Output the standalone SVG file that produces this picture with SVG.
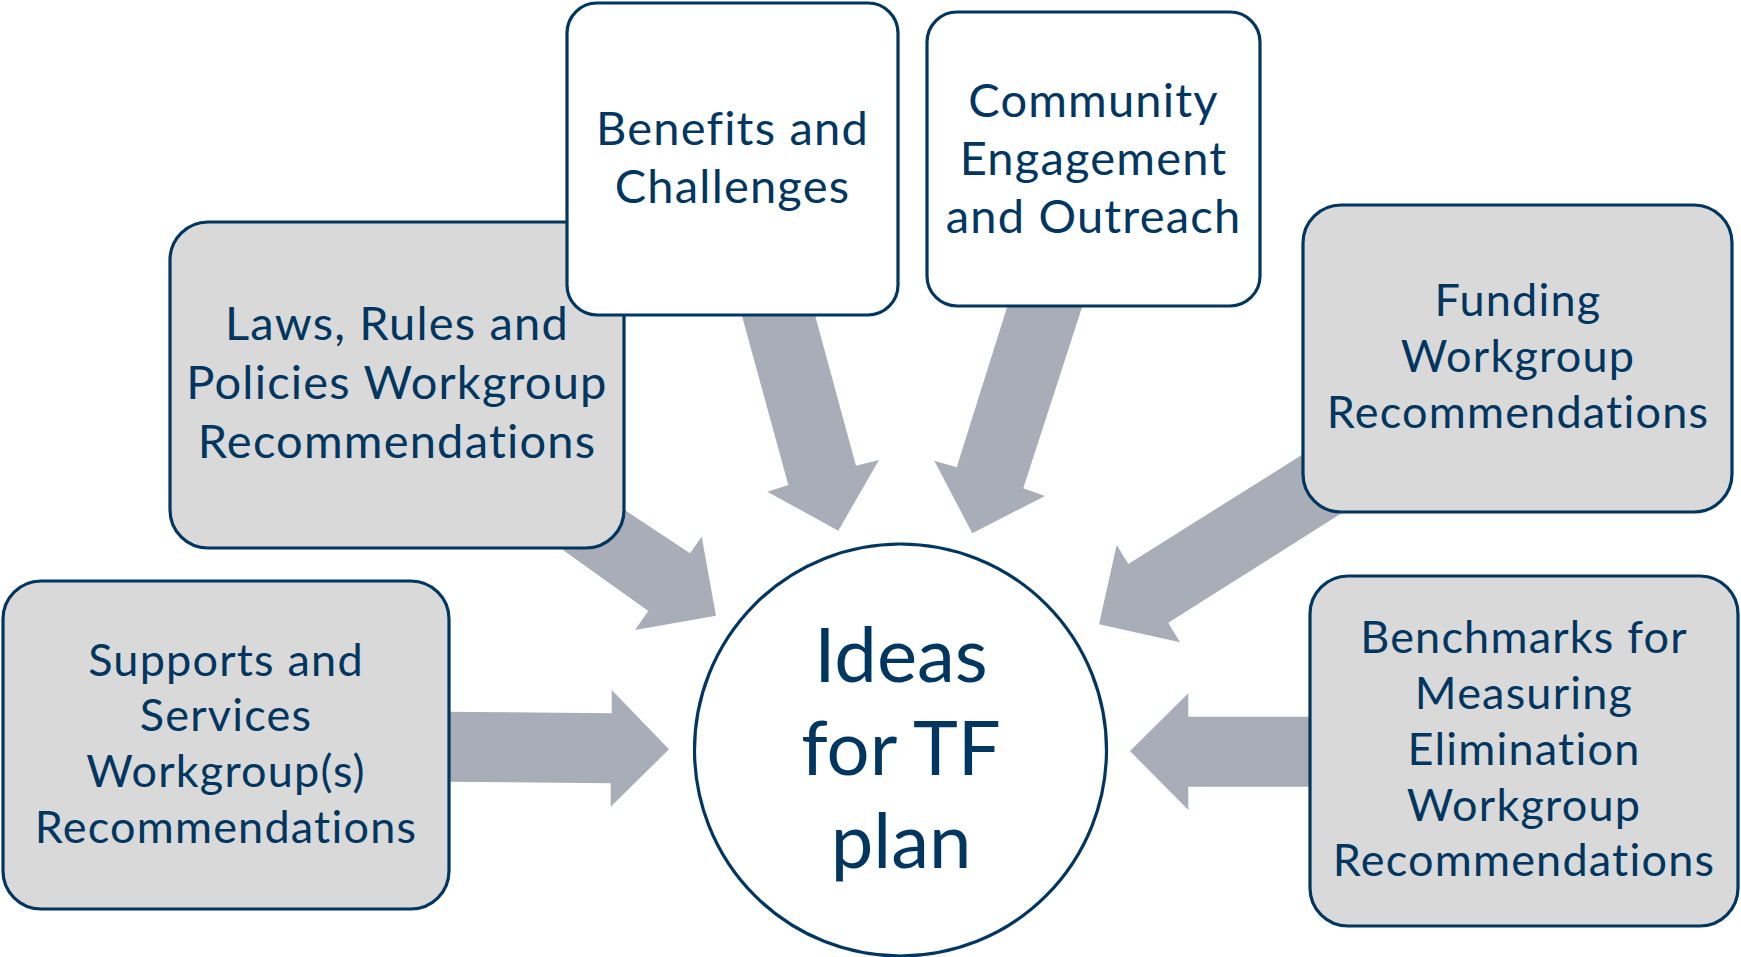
<svg xmlns="http://www.w3.org/2000/svg" width="1741" height="957" viewBox="0 0 1741 957">
<style>
.arrow{fill:#A9ADB7;stroke:none}
.box{stroke:#00365F;stroke-width:3.2}
.grey{fill:#D9D9D9}
.white{fill:#FFFFFF}
.t{font-family:Lato,"Liberation Sans",sans-serif;fill:#00365F;text-anchor:middle}
.t48{font-size:47px;letter-spacing:1.2px}
.t46{font-size:45px;letter-spacing:1.2px}
.big{font-size:76px}
</style>
<rect width="1741" height="957" fill="#FFFFFF"/>
<g id="connectors">
<polygon class="arrow" points="737.6,300 788.3,485 767.3,491.7 838.3,530.7 879,460 856,465.7 810.9,300"/>
<polygon class="arrow" points="1010.9,295 956.7,467.3 934.3,460.7 972.3,533.3 1045,496 1023.3,488.3 1086,295"/>
<polygon class="arrow" points="590,487 690,553.3 701.7,536.7 716,615.7 635,630 648.3,611 563,550"/>
<polygon class="arrow" points="1320,443.5 1128.3,564 1116.7,545 1099,624.3 1180,642.3 1168.3,622.7 1345,511"/>
<polygon class="arrow" points="440,711.7 611.7,713.3 611.7,690 669,749.3 610.7,806.7 610.7,783.3 440,781.7"/>
<polygon class="arrow" points="1130,751 1188.3,693.3 1188.3,716.7 1315,716.7 1315,786.7 1188.3,786.7 1188.3,810"/>
</g>
<g id="laws">
<rect class="box grey" x="170" y="222" width="454" height="326" rx="38"/>
<text class="t t48" x="397" y="340">Laws, Rules and</text>
<text class="t t48" x="397" y="399">Policies Workgroup</text>
<text class="t t48" x="397" y="458">Recommendations</text>
</g>
<g id="benefits">
<rect class="box white" x="567" y="3" width="331" height="312" rx="30"/>
<text class="t t48" x="732.5" y="145">Benefits and</text>
<text class="t t48" x="732.5" y="203">Challenges</text>
</g>
<g id="community">
<rect class="box white" x="927" y="12" width="333" height="294" rx="30"/>
<text class="t t48" x="1093.5" y="117">Community</text>
<text class="t t48" x="1093.5" y="175">Engagement</text>
<text class="t t48" x="1093.5" y="233">and Outreach</text>
</g>
<g id="funding">
<rect class="box grey" x="1303" y="205" width="429" height="307" rx="38"/>
<text class="t t46" x="1518" y="316">Funding</text>
<text class="t t46" x="1518" y="372">Workgroup</text>
<text class="t t46" x="1518" y="428">Recommendations</text>
</g>
<g id="supports">
<rect class="box grey" x="3" y="581" width="446" height="328" rx="38"/>
<text class="t t46" x="226" y="676">Supports and</text>
<text class="t t46" x="226" y="731">Services</text>
<text class="t t46" x="226" y="787">Workgroup(s)</text>
<text class="t t46" x="226" y="843">Recommendations</text>
</g>
<g id="benchmarks">
<rect class="box grey" x="1310" y="576" width="428" height="350" rx="38"/>
<text class="t t46" x="1524" y="653">Benchmarks for</text>
<text class="t t46" x="1524" y="709">Measuring</text>
<text class="t t46" x="1524" y="765">Elimination</text>
<text class="t t46" x="1524" y="821">Workgroup</text>
<text class="t t46" x="1524" y="876">Recommendations</text>
</g>
<g id="center">
<circle class="box white" cx="900.5" cy="750" r="206"/>
<text class="t big" x="901" y="682">Ideas</text>
<text class="t big" x="901" y="775">for TF</text>
<text class="t big" x="901" y="868">plan</text>
</g>
</svg>
